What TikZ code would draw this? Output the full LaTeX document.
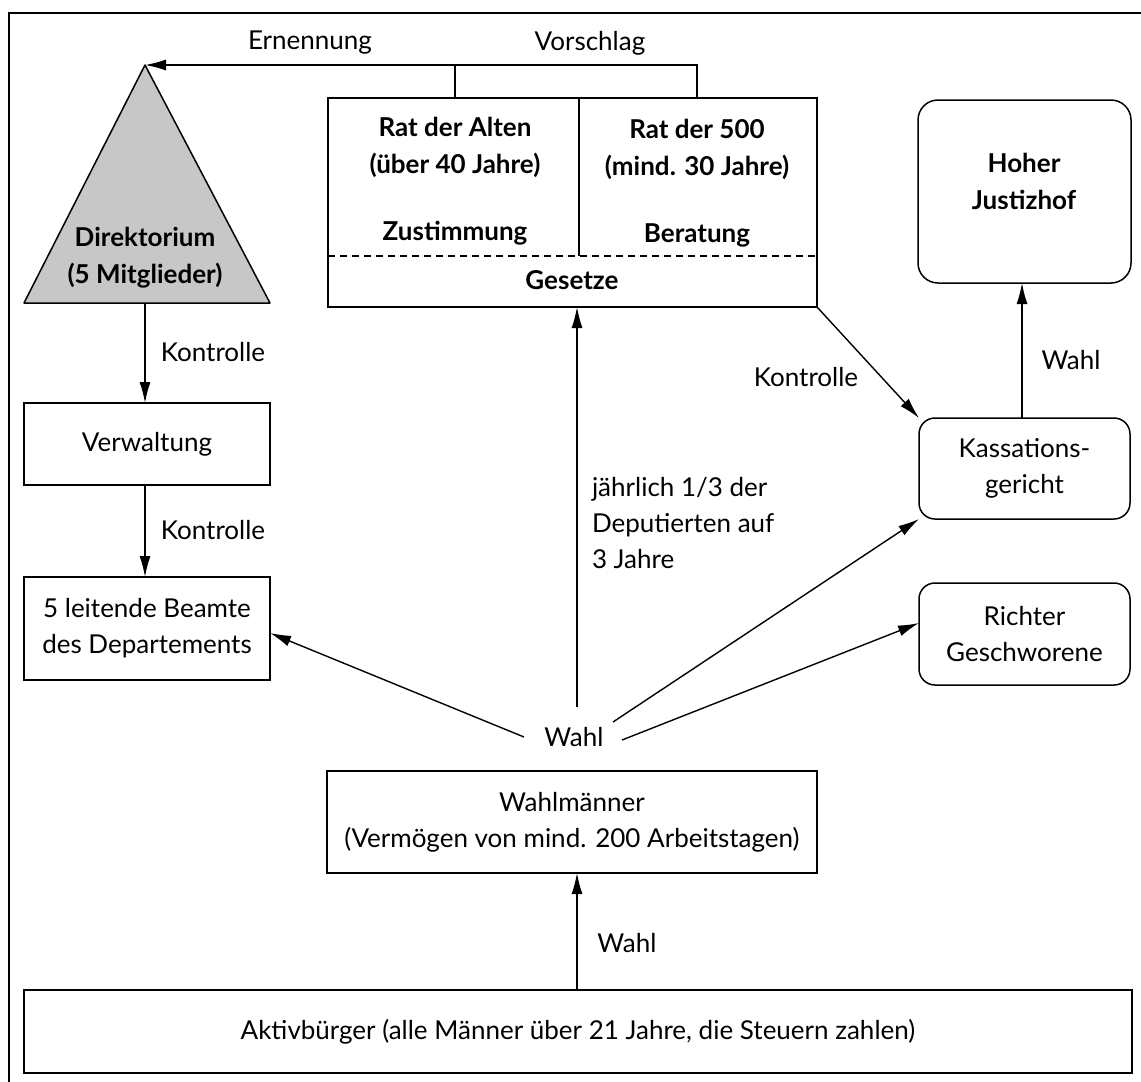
\documentclass[tikz,border=0pt]{standalone}
\usepackage{fontspec}
\setmainfont{Lato}
\usetikzlibrary{arrows.meta}
\begin{document}
\begin{tikzpicture}[x=1pt,y=-1pt,
  every node/.style={font=\fontsize{26}{36}\selectfont, inner sep=0pt, outer sep=0pt, align=center},
  box/.style={draw, line width=1.5pt},
  rbox/.style={draw, line width=1.5pt, rounded corners=16pt},
  bold/.style={font=\fontsize{26}{37}\selectfont\bfseries},
  arr/.style={line width=1.4pt, -{Latex[length=21pt,width=11pt]}},
  ln/.style={line width=1.4pt}]
\useasboundingbox (0,0) rectangle (1141,1082);
% frame (top and left only)
\draw[line width=2.4pt] (1141,13) -- (9,13) -- (9,1082);

% Direktorium triangle
\coordinate (apex) at (145,65);
\coordinate (bl) at (24,303);
\coordinate (br) at (270,303);
\coordinate (dirbase) at (145,303);
\filldraw[fill=black!22, draw=black, line width=1.5pt, line join=round] (apex) -- (br) -- (bl) -- cycle;
\node[bold] (dir) at (145,258) {Direktorium\\(5 Mitglieder)};

% Councils
\node[box, minimum width=489pt, minimum height=209pt] (council) at (572.5,202.5) {};
\draw[ln] (579,98) -- (579,256);
\draw[ln, dash pattern=on 7pt off 5pt] (328,256) -- (817,256);
\node[bold] (alten) at (455,147) {Rat der Alten\\(über 40 Jahre)};
\node[bold] (fuenf) at (697,149) {Rat der 500\\(mind. 30 Jahre)};
\node[bold] (zust) at (455,233) {Zustimmung};
\node[bold] (berat) at (697,235) {Beratung};
\node[bold] (gesetze) at (572,280) {Gesetze};
\coordinate (c1) at (455,98);
\coordinate (c2) at (697,98);
\draw[arr] (c2) |- (apex);
\draw[ln] (c1) -- (c1 |- apex);
\node (ern) at (310,43) {Ernennung};
\node (vor) at (590,43) {Vorschlag};

% left column
\node[box, minimum width=246pt, minimum height=82pt] (verw) at (147,444) {Verwaltung};
\node[box, minimum width=246pt, minimum height=103pt] (beamte) at (147,628.5) {5 leitende Beamte\\des Departements};
\draw[arr] (dirbase) -- (dirbase |- verw.north);
\draw[arr] (verw.south -| dirbase) -- (beamte.north -| dirbase);
\node (k1) at (213,352) {Kontrolle};
\node (k2) at (213,530) {Kontrolle};

% right column
\node[rbox, rounded corners=20pt, minimum width=213pt, minimum height=183pt] (justiz) at (1024.5,191.5) {};
\node[bold] (justiztxt) at (1024,181) {Hoher\\Justizhof};
\node[rbox, minimum width=211pt, minimum height=101pt] (kass) at (1024.5,468.5) {Kassations-\\gericht};
\node[rbox, minimum width=211pt, minimum height=102pt] (richter) at (1024.5,634) {Richter\\Geschworene};
\draw[arr] (kass.north -| 1022,0) -- (justiz.south -| 1022,0);
\node (wahlr) at (1071,360) {Wahl};
\draw[arr] (council.south east) -- (kass.north west);
\node (k3) at (806,377) {Kontrolle};

% middle
\node (wahl) at (574,737) {Wahl};
\node[anchor=west, align=left] (jahr) at (592,523) {jährlich 1/3 der\\Deputierten auf\\3 Jahre};
\coordinate (wl) at (524,737);
\coordinate (wu) at (577,707);
\coordinate (wk) at (613,722);
\coordinate (wr) at (622,740);
\draw[arr] (wl) -- (beamte.east |- 0,633);
\draw[arr] (wu) -- (wu |- council.south);
\draw[arr] (wk) -- (kass.south west);
\draw[arr] (wr) -- (richter.west |- 0,623);

% bottom
\node[box, minimum width=490pt, minimum height=102pt] (wahlm) at (572,822) {Wahlmänner\\(Vermögen von mind. 200 Arbeitstagen)};
\node[box, minimum width=1108pt, minimum height=83pt] (aktiv) at (578,1031.5) {Aktivbürger (alle Männer über 21 Jahre, die Steuern zahlen)};
\draw[arr] (aktiv.north -| 577,0) -- (wahlm.south -| 577,0);
\node (wahlb) at (627,943) {Wahl};
\end{tikzpicture}
\end{document}
